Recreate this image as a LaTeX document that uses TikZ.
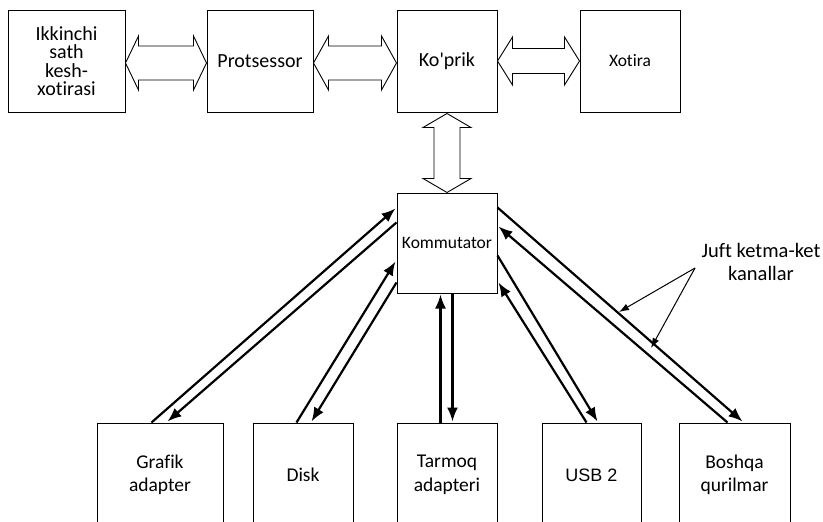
\documentclass[tikz,border=0pt]{standalone}
\usepackage{fontspec}
\setmainfont{Carlito}[Ligatures={NoCommon}]
\newfontfamily\arialfam{Liberation Sans}
\usetikzlibrary{arrows.meta,calc}
% horizontal double block arrow: #1 left tip, #2 right tip, #3 head length, #4 shaft half width, #5 head half width
\newcommand\blockH[5]{%
  \pgfmathsetmacro\blkd{#5-#4}%
  \draw[blk] (#1) -- ++(#3,-#5) -- ++(0,\blkd) -- ([shift={(-#3,-#4)}]#2) -- ++(0,-\blkd) -- (#2)
    -- ++(-#3,#5) -- ++(0,-\blkd) -- ([shift={(#3,#4)}]#1) -- ++(0,\blkd) -- cycle;}
% vertical double block arrow: #1 top tip, #2 bottom tip
\newcommand\blockV[5]{%
  \pgfmathsetmacro\blkd{#5-#4}%
  \draw[blk] (#1) -- ++(-#5,#3) -- ++(\blkd,0) -- ([shift={(-#4,-#3)}]#2) -- ++(-\blkd,0) -- (#2)
    -- ++(#5,-#3) -- ++(-\blkd,0) -- ([shift={(#4,#3)}]#1) -- ++(\blkd,0) -- cycle;}
\begin{document}
\begin{tikzpicture}[x=1pt,y=-1pt,
  box/.style={draw, line width=1pt, inner sep=0pt, align=center},
  big/.style={font=\fontsize{20}{18.5}\selectfont},
  mid/.style={font=\fontsize{17.5}{20}\selectfont},
  low/.style={font=\fontsize{19.5}{23.5}\selectfont},
  blk/.style={draw, line width=0.9pt, fill=white, line join=miter},
  ch/.style={line width=2.2pt, -{Latex[length=14pt,width=11pt]}},
  ann/.style={line width=1pt, -{Latex[length=10pt,width=7pt]}}]
\useasboundingbox (0,0) rectangle (823,522);
\clip (0,0) rectangle (823,522);
% top row
\node[box, big, minimum width=117pt, minimum height=102pt] (ikk) at (66.5,61) {Ikkinchi\\sath\\kesh-\\xotirasi};
\node[box, big, minimum width=106pt, minimum height=102pt] (prot) at (260,61) {Protsessor};
\node[box, big, minimum width=100pt, minimum height=102pt] (kop) at (447,61) {Ko\textquotesingle prik};
\node[box, mid, minimum width=100pt, minimum height=102pt] (xot) at (630,61) {Xotira};
% switch
\node[box, mid, minimum width=100pt, minimum height=100pt] (komm) at (447,243) {Kommutator};
% bottom row
\node[box, low, minimum width=126pt, minimum height=104pt] (graf) at (160,475) {Grafik\\adapter};
\node[box, low, minimum width=100pt, minimum height=104pt] (disk) at (303,475) {Disk};
\node[box, low, minimum width=100pt, minimum height=104pt] (tarm) at (447,475) {Tarmoq\\adapteri};
\node[box, font=\arialfam\fontsize{18}{22}\selectfont, minimum width=99pt, minimum height=104pt] (usb) at (591.5,475) {USB 2};
\node[box, low, minimum width=111pt, minimum height=104pt] (bosh) at (734.5,475) {Boshqa\\qurilmar};
% block arrow end points
\coordinate (a1l) at ([shift={(0,2)}]ikk.east);
\coordinate (a1r) at ([shift={(0,2)}]prot.west);
\coordinate (a2l) at ([shift={(0,2)}]prot.east);
\coordinate (a2r) at ([shift={(0,2)}]kop.west);
\coordinate (a4t) at ([shift={(0,1)}]kop.south);
% block arrows
\blockH{a1l}{a1r}{13}{17}{27}
\blockH{a2l}{a2r}{15}{17}{27}
\blockH{kop.east}{xot.west}{15}{12.5}{24}
\blockV{a4t}{komm.north}{14}{13}{24}
% serial channel pairs
\draw[ch] ([shift={(55,0)}]graf.north west) -- ([shift={(-1,16)}]komm.north west);
\draw[ch] ([shift={(0,30)}]komm.north west) -- ([shift={(71,-1)}]graf.north west);
\draw[ch] ([shift={(44,0)}]disk.north west) -- ([shift={(-1,69)}]komm.north west);
\draw[ch] ([shift={(0,90)}]komm.north west) -- ([shift={(59,-1)}]disk.north west);
\draw[ch] ([shift={(44,0)}]tarm.north west) -- ([shift={(44,1)}]komm.south west);
\draw[ch] ([shift={(56,0)}]komm.south west) -- ([shift={(56,-1)}]tarm.north west);
\draw[ch] ([shift={(45,0)}]usb.north west) -- ([shift={(1,90)}]komm.north east);
\draw[ch] ([shift={(0,63)}]komm.north east) -- ([shift={(56,-1)}]usb.north west);
\draw[ch] ([shift={(0,15)}]komm.north east) -- ([shift={(64,-1)}]bosh.north west);
\draw[ch] ([shift={(49,0)}]bosh.north west) -- ([shift={(1,34)}]komm.north east);
% annotation
\node[font=\fontsize{20.5}{23}\selectfont, align=center, inner sep=0pt] (juft) at (761,261.5) {Juft ketma-ket\\kanallar};
\coordinate (jo) at (695,268);
\coordinate (j1) at (619,312);
\coordinate (j2) at (651,348);
\draw[ann] (jo) -- (j1);
\draw[ann] (jo) -- (j2);
\end{tikzpicture}
\end{document}
